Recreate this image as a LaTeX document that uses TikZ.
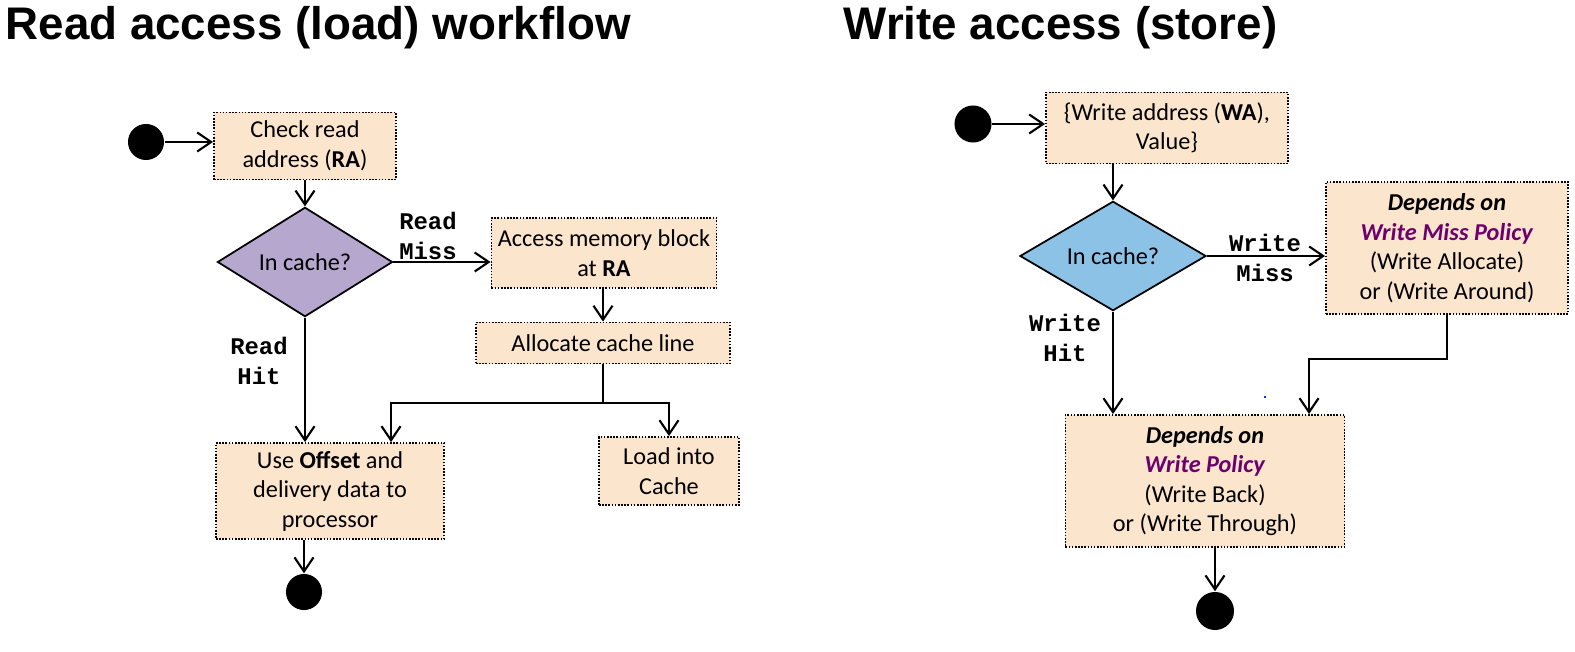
\documentclass[tikz,border=0pt]{standalone}
\usepackage{fontspec}
\setmainfont{Carlito}
\newfontfamily\headfont{Liberation Sans}
\newfontfamily\codefont{Liberation Mono}
\usetikzlibrary{shapes.geometric,arrows.meta}
\definecolor{peach}{RGB}{252,229,205}
\definecolor{lavender}{RGB}{181,167,206}
\definecolor{skyblue}{RGB}{140,194,230}
\definecolor{policy}{RGB}{108,0,108}
\begin{document}
\begin{tikzpicture}[x=0.01cm, y=-0.01cm,
    actbox/.style={draw, dash pattern=on 0.45pt off 0.45pt, line width=0.5pt, fill=peach,
        align=center, inner sep=0pt, font=\fontsize{6.9}{8.4}\selectfont},
    choice/.style={diamond, draw, line width=0.5pt, inner sep=0pt, font=\fontsize{6.9}{8.4}\selectfont},
    terminal/.style={circle, fill=black, minimum size=0.36cm, inner sep=0pt},
    flow/.style={-{Straight Barb[length=1.4mm,width=1.9mm]}, line width=0.6pt},
    branchlbl/.style={font=\codefont\bfseries\fontsize{6.8}{8.3}\selectfont, align=center, inner sep=0pt},
    heading/.style={font=\headfont\bfseries\fontsize{13}{15}\selectfont, anchor=base west, inner sep=0pt}]
    \useasboundingbox (0,0) rectangle (1575,652);

    % read access
    \node[heading] (rtitle) at (5,40) {Read access (load) workflow};
    \node[terminal] (rstart) at (146,142) {};
    \node[actbox, minimum width=1.82cm, minimum height=0.67cm] (check) at (305,146) {Check read\\address (\textbf{RA})};
    \node[choice, fill=lavender, minimum width=1.75cm, minimum height=0.87cm] (rdia) at (305,262) {In cache?};
    \node[actbox, minimum width=2.25cm, minimum height=0.70cm] (access) at (604,253) {Access memory block\\at \textbf{RA}};
    \node[actbox, minimum width=2.54cm, minimum height=0.41cm] (alloc) at (603,343) {Allocate cache line};
    \node[actbox, minimum width=2.28cm, minimum height=0.96cm] (use) at (330,491) {Use \textbf{Offset} and\\delivery data to\\processor};
    \node[actbox, minimum width=1.40cm, minimum height=0.68cm] (load) at (669,471) {Load into\\Cache};
    \node[terminal] (rend) at (304,592) {};
    \node[branchlbl] (rmiss) at (428,236) {Read\\Miss};
    \node[branchlbl] (rhit) at (259,361) {Read\\Hit};

    \draw[flow] (rstart) -- (rstart -| check.west);
    \draw[flow] (check) -- (rdia);
    \draw[flow] (rdia.east) -- (rdia.east -| access.west);
    \draw[flow] (access.south -| alloc) -- (alloc);
    \draw[flow] (rdia.south) -- (rdia.south |- use.north);
    \draw (alloc.south) -- ++(0,39) coordinate (fork);
    \draw[flow] (fork) -| ([xshift=0.61cm]use.north);
    \draw[flow] (fork) -| (load.north);
    \draw[flow] (rend |- use.south) -- (rend.north);

    % write access
    \node[heading] (wtitle) at (843,40) {Write access (store)};
    \node[terminal, minimum size=0.37cm] (wstart) at (973,124) {};
    \node[actbox, minimum width=2.42cm, minimum height=0.71cm] (wa) at (1167,128) {\{Write address (\textbf{WA}),\\Value\}};
    \node[choice, fill=skyblue, minimum width=1.86cm, minimum height=0.93cm] (wdia) at (1113,256) {In cache?};
    \node[actbox, minimum width=2.42cm, minimum height=1.32cm] (wmp) at (1447,248)
        {\textbf{\textit{Depends on}}\\\textcolor{policy}{\textbf{\textit{Write Miss Policy}}}\\(Write Allocate)\\or (Write Around)};
    \node[actbox, minimum width=2.79cm, minimum height=1.32cm] (wp) at (1205,481)
        {\textbf{\textit{Depends on}}\\\textcolor{policy}{\textbf{\textit{Write Policy}}}\\(Write Back)\\or (Write Through)};
    \node[terminal, minimum size=0.38cm] (wend) at (1215,611) {};
    \node[branchlbl] (wmiss) at (1265,258) {Write\\Miss};
    \node[branchlbl] (whit) at (1065,338) {Write\\Hit};
    \fill[blue!80!cyan] (1264,396) rectangle (1266,398);

    \draw[flow] (wstart) -- (wstart -| wa.west);
    \draw[flow] (wdia |- wa.south) -- (wdia.north);
    \draw[flow] (wdia.east) -- (wdia.east -| wmp.west);
    \draw[flow] (wdia.south) -- (wdia.south |- wp.north);
    \draw[flow] (wmp.south) -- ++(0,44) -| ([xshift=1.04cm]wp.north);
    \draw[flow] (wend |- wp.south) -- (wend.north);
\end{tikzpicture}
\end{document}
